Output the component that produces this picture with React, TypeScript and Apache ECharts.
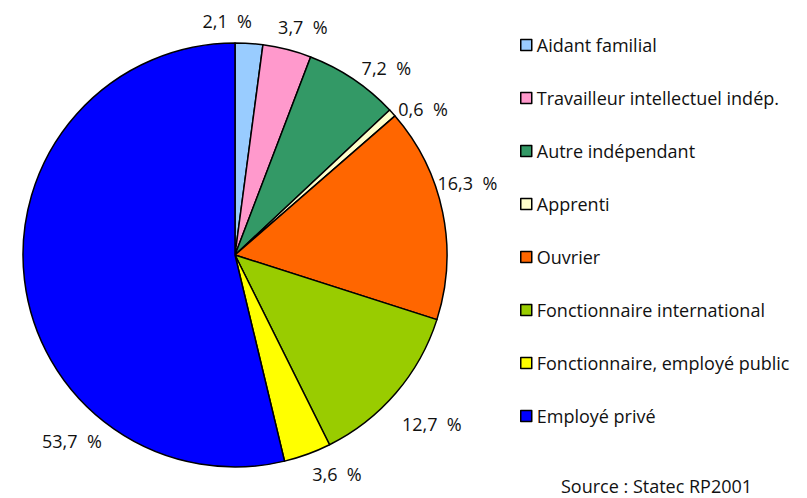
import React, { useEffect, useRef } from "react";
import * as echarts from "echarts";

const categories = [
  "Aidant familial",
  "Travailleur intellectuel indép.",
  "Autre indépendant",
  "Apprenti",
  "Ouvrier",
  "Fonctionnaire international",
  "Fonctionnaire, employé public",
  "Employé privé",
];
const values = [2.1, 3.7, 7.2, 0.6, 16.3, 12.7, 3.6, 53.7];
const colors = ["#99CCFF", "#FF99CC", "#339966", "#FFFFCC", "#FF6600", "#99CC00", "#FFFF00", "#0000FF"];
const sourceText = "Source : Statec RP2001";
// small label nudges (style only), mimicking the original best-fit placement
const labelNudge = [
  [-54, -14],
  [-18, -15],
  [-3, -4],
  [-7, 1],
  [-20, -28],
  [-7, 26],
  [-5, 12],
  [0, 0],
];

const FONT = "'Open Sans', 'Noto Sans', sans-serif";

export default function App() {
  const ref = useRef<HTMLDivElement>(null);
  useEffect(() => {
    if (!ref.current) return;
    const chart = echarts.init(ref.current, undefined, { renderer: "svg" });
    chart.setOption({
      animation: false,
      backgroundColor: "#ffffff",
      legend: {
        orient: "vertical",
        left: 515,
        top: 27,
        itemWidth: 11,
        itemHeight: 11,
        itemGap: 27,
        icon: "rect",
        itemStyle: { borderColor: "#000", borderWidth: 1.5 },
        textStyle: { fontFamily: FONT, fontSize: 18, color: "#111", lineHeight: 26, padding: [0, 0, 0, 0] },
        data: categories,
      },
      graphic: [
        {
          type: "text",
          left: 561,
          top: 477,
          style: { text: sourceText, font: `18px ${FONT}`, fill: "#111" },
        },
      ],
      series: [
        {
          type: "pie",
          center: [235, 255],
          radius: 212,
          startAngle: 90,
          clockwise: true,
          avoidLabelOverlap: false,
          itemStyle: { borderColor: "#000", borderWidth: 1.5 },
          label: {
            show: true,
            position: "outside",
            fontFamily: FONT,
            fontSize: 18,
            color: "#111",
            formatter: (p: any) => `${String(p.value).replace(".", ",")}\u00a0\u00a0%`,
          },
          labelLine: { show: false, length: 8, length2: 2 },
          labelLayout: (p: any) =>
            p.dataIndex === 7
              ? { x: 42, y: 441, align: "left" }
              : { dx: labelNudge[p.dataIndex][0], dy: labelNudge[p.dataIndex][1] },
          emphasis: { disabled: true },
          data: categories.map((c, i) => ({ name: c, value: values[i], itemStyle: { color: colors[i] } })),
        },
      ],
    });
    return () => chart.dispose();
  }, []);
  return <div ref={ref} style={{ position: "fixed", left: 0, top: 0, width: 807, height: 498 }} />;
}
